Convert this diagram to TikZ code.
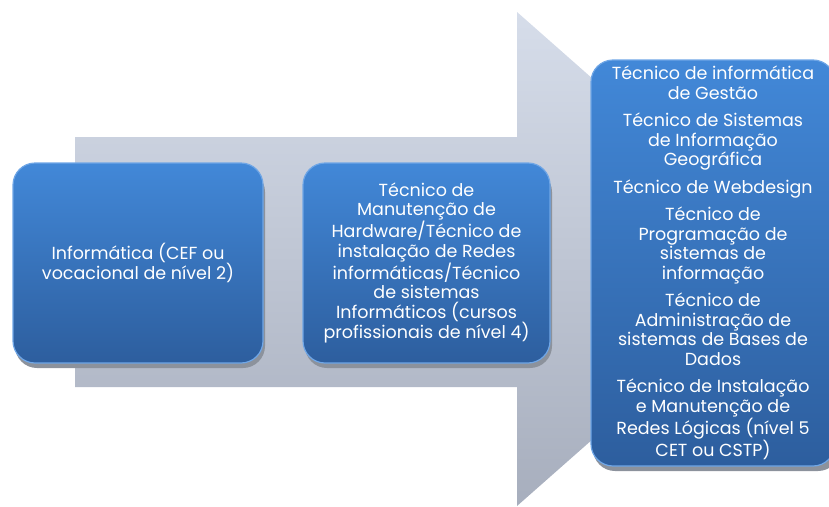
\documentclass[tikz,border=0pt]{standalone}
\usepackage{fontspec}
\setmainfont{Poppins}
\usetikzlibrary{positioning}
\definecolor{arrowtop}{HTML}{D6DDEA}
\definecolor{arrowbot}{HTML}{A7AEBD}
\definecolor{boxtop}{HTML}{4288D8}
\definecolor{boxbot}{HTML}{2D5E9E}
\definecolor{boxedge}{HTML}{6FA6E6}
\definecolor{boxshade}{HTML}{8C929C}
\tikzset{
  course/.style={rounded corners=22pt, top color=boxtop, bottom color=boxbot,
    draw=boxedge, line width=1.2pt, text=white, align=center, inner sep=0pt,
    font=\fontsize{17.5}{19.5}\selectfont},
}
\begin{document}
\begin{tikzpicture}[x=1pt, y=-1pt]
  \useasboundingbox (0,0) rectangle (829,506);

  % -- Background arrow --
  \shade[top color=arrowtop, bottom color=arrowbot]
    (75,137) -- (517,137) -- (517,12) -- (797,259) -- (517,506) -- (517,387) -- (75,387) -- cycle;

  % -- Shadows under the boxes --
  \fill[boxshade, rounded corners=22pt] (15,170) rectangle (265,368);
  \fill[boxshade, rounded corners=22pt] (305,170) rectangle (552,368);
  \fill[boxshade, rounded corners=22pt] (593,66) rectangle (840,471);

  % -- Level 2 --
  \node[course, minimum width=250pt, minimum height=200pt,
    font=\fontsize{17.5}{18}\selectfont] (level2) at (138,263)
    {Informática (CEF ou\\vocacional de nível 2)};

  % -- Level 4 --
  \node[course, minimum width=247pt, minimum height=200pt] (level4) at (426.5,263)
    {Técnico de\\Manutenção de\\Hardware/Técnico de\\instalação de Redes\\informáticas/Técnico\\de sistemas\\Informáticos (cursos\\profissionais de nível 4)};

  % -- Level 5 --
  \node[course, minimum width=244pt, minimum height=406pt] (level5) at (713,263)
    {Técnico de informática\\de Gestão\\[8pt]
     Técnico de Sistemas\\de Informação\\Geográfica\\[8pt]
     Técnico de Webdesign\\[8pt]
     Técnico de\\Programação de\\sistemas de\\informação\\[8pt]
     Técnico de\\Administração de\\sistemas de Bases de\\Dados\\[8pt]
     Técnico de Instalação\\e Manutenção de\\Redes Lógicas (nível 5\\CET ou CSTP)};

\end{tikzpicture}
\end{document}
